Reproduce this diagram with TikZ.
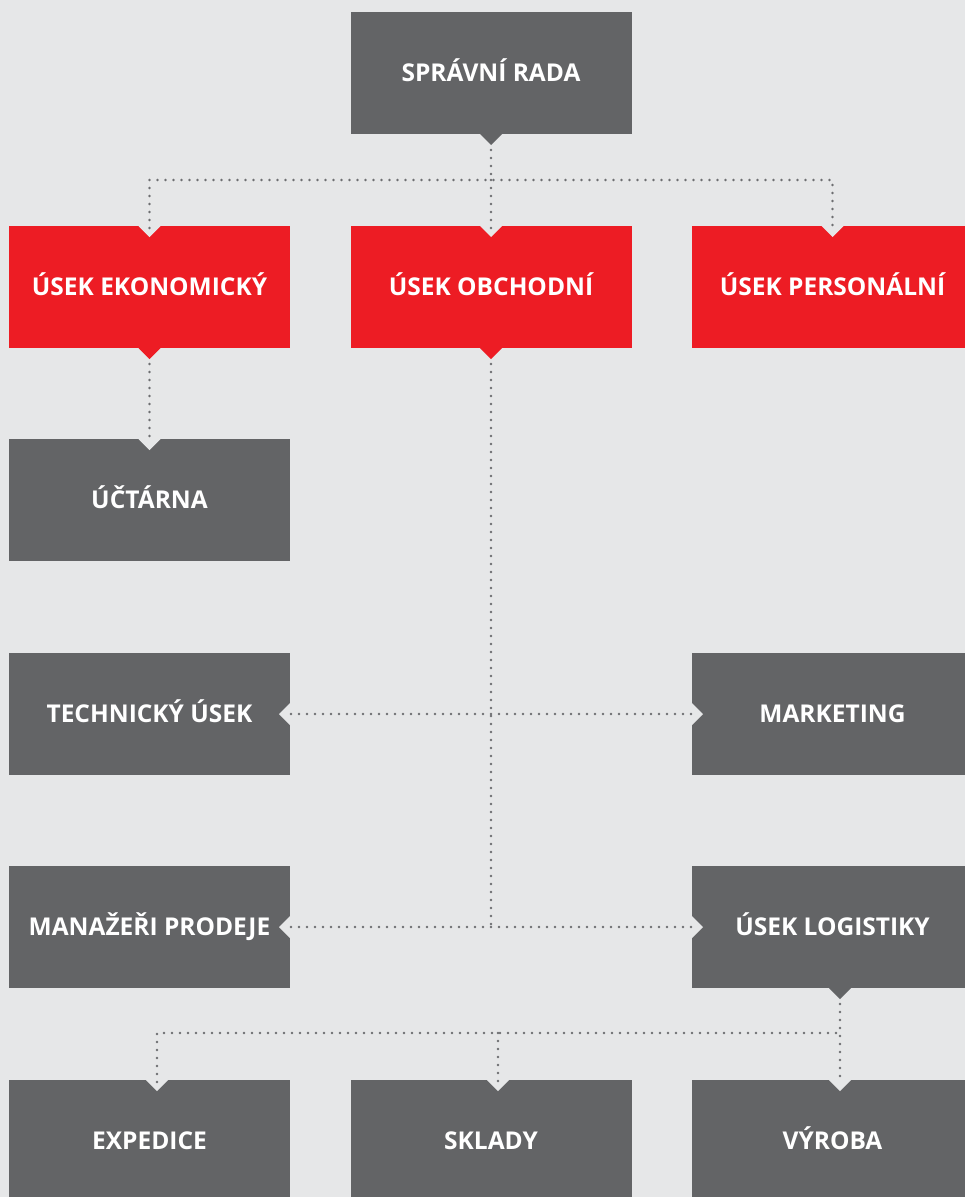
\documentclass[tikz,border=0pt]{standalone}
\usepackage{fontspec}
\setmainfont{Open Sans}
\definecolor{bgc}{HTML}{E6E7E8}
\definecolor{boxgray}{HTML}{636466}
\definecolor{boxred}{HTML}{ED1C24}
\definecolor{dotc}{HTML}{6D6E71}
% tab pointing down below a box
\newcommand{\tabS}[3]{\fill[#2] ([xshift=#3pt-11pt]#1.south) -- ([xshift=#3pt+11pt]#1.south) -- ([xshift=#3pt,yshift=-11pt]#1.south) -- cycle;}
% notches cut into a box
\newcommand{\notchN}[2]{\fill[bgc] ([xshift=#2pt-11pt]#1.north) -- ([xshift=#2pt+11pt]#1.north) -- ([xshift=#2pt,yshift=-11pt]#1.north) -- cycle;}
\newcommand{\notchE}[1]{\fill[bgc] ([yshift=11pt]#1.east) -- ([yshift=-11pt]#1.east) -- ([xshift=-11pt]#1.east) -- cycle;}
\newcommand{\notchW}[1]{\fill[bgc] ([yshift=11pt]#1.west) -- ([yshift=-11pt]#1.west) -- ([xshift=11pt]#1.west) -- cycle;}
\begin{document}
\begin{tikzpicture}[x=1pt, y=-1pt,
  unit/.style={rectangle, minimum width=281pt, minimum height=122pt, inner sep=0pt, outer sep=0pt,
    text height=17.5pt, text depth=0pt,
    text=white, font=\fontsize{24.5}{28}\selectfont\bfseries},
  graybox/.style={unit, fill=boxgray},
  redbox/.style={unit, fill=boxred},
  dots/.style={draw=dotc, line width=2.6pt, line cap=round, dash pattern=on 0pt off 8pt}]
	\useasboundingbox (0,0) rectangle (965,1197);
	\clip (0,0) rectangle (965,1197);
	\fill[bgc] (0,0) rectangle (965,1197);
	\node[graybox] (rada) at (491,73) {SPRÁVNÍ RADA};
	\node[redbox] (ekon) at (149.5,287) {ÚSEK EKONOMICKÝ};
	\node[redbox] (obch) at (491,287) {ÚSEK OBCHODNÍ};
	\node[redbox] (pers) at (832.5,287) {ÚSEK PERSONÁLNÍ};
	\node[graybox] (uct) at (149.5,500) {ÚČTÁRNA};
	\node[graybox] (tech) at (149.5,714) {TECHNICKÝ ÚSEK};
	\node[graybox] (mark) at (832.5,714) {MARKETING};
	\node[graybox] (man) at (149.5,927) {MANAŽEŘI PRODEJE};
	\node[graybox] (log) at (832.5,927) {ÚSEK LOGISTIKY};
	\node[graybox] (exp) at (149.5,1141) {EXPEDICE};
	\node[graybox] (skl) at (491,1141) {SKLADY};
	\node[graybox] (vyr) at (832.5,1141) {VÝROBA};
	% tabs and notches
	\tabS{rada}{boxgray}{0}
	\tabS{ekon}{boxred}{0}
	\tabS{obch}{boxred}{0}
	\tabS{log}{boxgray}{7.5}
	\notchN{ekon}{0} \notchN{obch}{0} \notchN{pers}{0}
	\notchN{uct}{0}
	\notchN{exp}{7.5} \notchN{skl}{7} \notchN{vyr}{7.5}
	\notchE{tech} \notchW{mark}
	\notchE{man} \notchW{log}
	% connectors
	\coordinate (jtop) at (491,180);
	\coordinate (jbot) at (491,1033);
	\draw[dots] ([yshift=-16pt]rada.south) -- (jtop);
	\draw[dots] ([yshift=-2pt]ekon.north) |- (jtop) -| ([yshift=-2pt]pers.north);
	\draw[dots] (jtop) -- ([yshift=-2pt]obch.north);
	\draw[dots] ([yshift=-16pt]ekon.south) -- ([yshift=-2pt]uct.north);
	\draw[dots] ([yshift=-16pt]obch.south) -- (obch.south |- man.east);
	\draw[dots] ([xshift=1pt]tech.east) -- ([xshift=-1pt]mark.west);
	\draw[dots] ([xshift=1pt]man.east) -- ([xshift=-1pt]log.west);
	\draw[dots] ([xshift=7.5pt,yshift=-16pt]log.south) -- ([xshift=7.5pt,yshift=-2pt]vyr.north);
	\draw[dots] ([xshift=7.5pt,yshift=-2pt]exp.north) |- ([xshift=7.5pt]vyr.north |- jbot);
	\draw[dots] ([xshift=7pt]skl.north |- jbot) -- ([xshift=7pt,yshift=-2pt]skl.north);
\end{tikzpicture}
\end{document}
